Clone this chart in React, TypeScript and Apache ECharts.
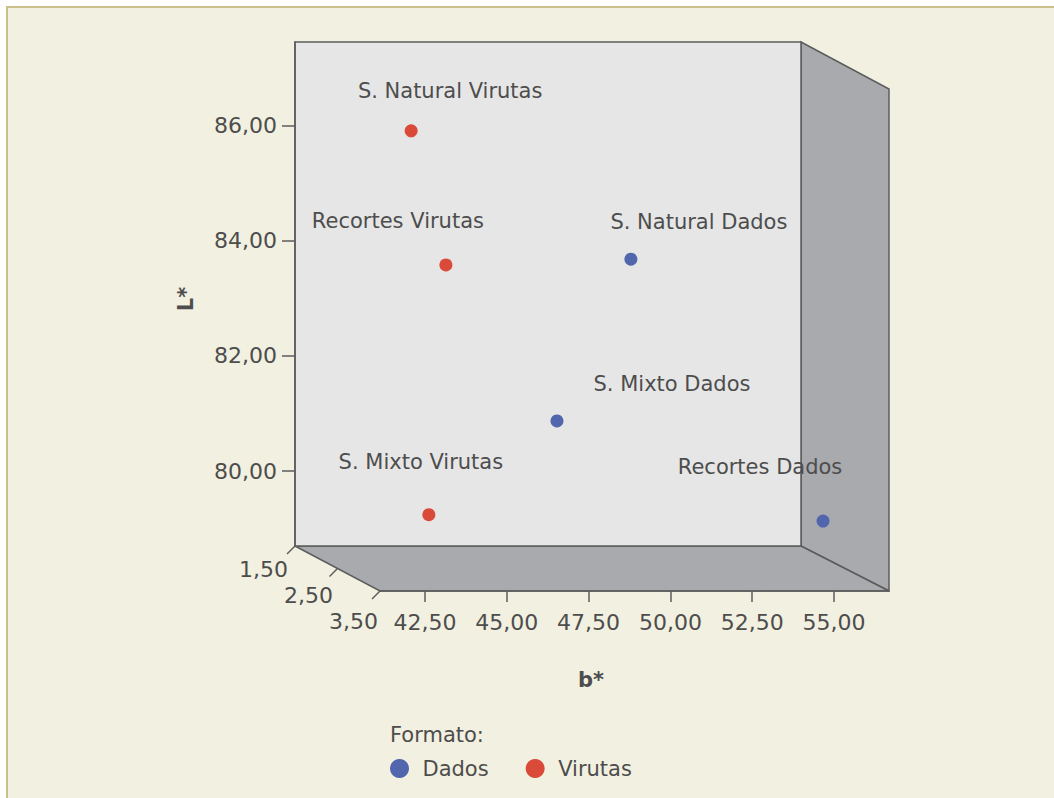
import React, { useEffect, useRef } from "react";
import * as echarts from "echarts";

// ---- data ----
const names = ["S. Natural Virutas", "Recortes Virutas", "S. Mixto Virutas", "S. Natural Dados", "S. Mixto Dados", "Recortes Dados"];
const formato = ["Virutas", "Virutas", "Virutas", "Dados", "Dados", "Dados"];
const bValues = [43.77, 44.31, 44.05, 50.79, 47.46, 55.11];
const lValues = [86.19, 84.02, 79.6, 83.88, 81.39, 79.81];
const aValues = [2.2, 2.6, 2.4, 2.0, 2.8, 3.2];
const bTicks = [42.5, 45, 47.5, 50, 52.5, 55];
const lTicks = [80, 82, 84, 86];
const aTicks = [1.5, 2.5, 3.5];
const bRange = [41.125, 56.68];
const lRange = [78.697, 87.454];
const aRange = [1.5, 3.5];
const groups = ["Dados", "Virutas"];

// ---- layout / style ----
const FRONT = { x: 295, y: 42, w: 506, h: 504 };
const DEPTH = { dx: 86, dy: 46 };
const BACK = { x: 380, y: 89, w: 509, h: 502 };
const labelOffsets: Record<string, number[]> = {
  "S. Natural Virutas": [39, -40],
  "Recortes Virutas": [-48, -44],
  "S. Mixto Virutas": [-8, -53],
  "S. Natural Dados": [68, -37],
  "S. Mixto Dados": [115, -37],
  "Recortes Dados": [-63, -54],
};
const COLORS: Record<string, string> = { Dados: "#5266ae", Virutas: "#da4a38" };
const FONT = "'DejaVu Sans', sans-serif";
const TXT = "#4d4d4d";
const EDGE = "#5c5c5c";
const fmt = (v: number) => v.toFixed(2).replace(".", ",");

export default function App() {
  const ref = useRef<HTMLDivElement>(null);
  useEffect(() => {
    if (!ref.current) return;
    const chart = echarts.init(ref.current, undefined, { renderer: "svg" });

    const bPerPx = (bRange[1] - bRange[0]) / FRONT.w;
    const lPerPx = (lRange[1] - lRange[0]) / FRONT.h;
    const project = (i: number) => {
      const f = (aValues[i] - aRange[0]) / (aRange[1] - aRange[0]);
      return [bValues[i] + f * DEPTH.dx * bPerPx, lValues[i] - f * DEPTH.dy * lPerPx, aValues[i]];
    };

    const series = groups.map((g) => ({
      type: "scatter",
      name: g,
      xAxisIndex: 0,
      yAxisIndex: 0,
      clip: false,
      symbol: "circle",
      symbolSize: 13,
      itemStyle: { color: COLORS[g], opacity: 1 },
      label: {
        show: true,
        position: "inside",
        formatter: (p: any) => p.name,
        color: TXT,
        fontSize: 21,
        fontFamily: FONT,
      },
      data: names
        .map((n, i) => ({ n, i }))
        .filter(({ i }) => formato[i] === g)
        .map(({ n, i }) => ({ name: n, value: project(i), label: { offset: labelOffsets[n] } })),
    }));

    // depth axis (a*) drawn along the floor diagonal
    const depthEls: any[] = [];
    aTicks.forEach((v) => {
      const t = (v - aRange[0]) / (aRange[1] - aRange[0]);
      const px = FRONT.x + t * (BACK.x - FRONT.x);
      const py = FRONT.y + FRONT.h + t * (BACK.y + BACK.h - FRONT.y - FRONT.h);
      depthEls.push({
        type: "line",
        z: 5,
        shape: { x1: px, y1: py, x2: px - 8, y2: py + 8 },
        style: { stroke: EDGE, lineWidth: 1.5 },
      });
      depthEls.push({
        type: "text",
        z: 5,
        x: px - 7 + t * 5,
        y: py + 23 + t * 7,
        style: { text: fmt(v), fill: TXT, font: `22px ${FONT}`, align: "right", verticalAlign: "middle" },
      });
    });

    const fr = FRONT.x + FRONT.w;
    const fb = FRONT.y + FRONT.h;
    const br = BACK.x + BACK.w;
    const bb = BACK.y + BACK.h;

    chart.setOption({
      animation: false,
      backgroundColor: "#ffffff",
      grid: [
        { left: FRONT.x, top: FRONT.y, width: FRONT.w, height: FRONT.h },
        { left: BACK.x, top: BACK.y, width: BACK.w, height: BACK.h },
      ],
      xAxis: [
        { gridIndex: 0, type: "value", min: bRange[0], max: bRange[1], show: false },
        {
          gridIndex: 1,
          type: "value",
          min: bRange[0],
          max: bRange[1],
          position: "bottom",
          axisLine: { show: true, lineStyle: { color: EDGE, width: 1.5 } },
          axisTick: { show: true, length: 11, customValues: bTicks, lineStyle: { color: EDGE, width: 1.5 } },
          axisLabel: { customValues: bTicks, formatter: fmt, margin: 20, fontSize: 22, color: TXT, fontFamily: FONT },
          splitLine: { show: false },
        },
      ],
      yAxis: [
        {
          gridIndex: 0,
          type: "value",
          min: lRange[0],
          max: lRange[1],
          axisLine: { show: true, lineStyle: { color: EDGE, width: 1.5 } },
          axisTick: { show: true, length: 13, customValues: lTicks, lineStyle: { color: EDGE, width: 1.5 } },
          axisLabel: { customValues: lTicks, formatter: fmt, margin: 18, fontSize: 22, color: TXT, fontFamily: FONT },
          splitLine: { show: false },
        },
        { gridIndex: 1, type: "value", min: lRange[0], max: lRange[1], show: false },
      ],
      legend: {
        data: groups,
        left: 385,
        top: 753,
        icon: "circle",
        itemWidth: 30,
        itemHeight: 19,
        itemGap: 37,
        textStyle: { color: TXT, fontSize: 21, fontFamily: FONT, padding: [0, 0, 0, 3] },
      },
      graphic: [
        {
          type: "rect",
          z: -30,
          shape: { x: 7, y: 7, width: 1200, height: 1000 },
          style: { fill: "#f2f0e0", stroke: "#c9c08a", lineWidth: 2 },
        },
        {
          type: "polygon",
          z: -20,
          shape: { points: [[fr, FRONT.y], [br, BACK.y], [br, bb], [fr, fb]] },
          style: { fill: "#a9aaae", stroke: EDGE, lineWidth: 1.5 },
        },
        {
          type: "polygon",
          z: -20,
          shape: { points: [[FRONT.x, fb], [BACK.x, bb], [br, bb], [fr, fb]] },
          style: { fill: "#a9aaae", stroke: EDGE, lineWidth: 1.5 },
        },
        {
          type: "rect",
          z: -15,
          shape: { x: FRONT.x, y: FRONT.y, width: FRONT.w, height: FRONT.h },
          style: { fill: "#e6e6e6", stroke: EDGE, lineWidth: 1.5 },
        },
        ...depthEls,
        {
          type: "text",
          z: 5,
          x: 186,
          y: 299,
          rotation: Math.PI / 2,
          style: { text: "L*", fill: TXT, font: `bold 21px ${FONT}`, align: "center", verticalAlign: "middle" },
        },
        {
          type: "text",
          z: 5,
          x: 591,
          y: 680,
          style: { text: "b*", fill: TXT, font: `bold 21px ${FONT}`, align: "center", verticalAlign: "middle" },
        },
        {
          type: "text",
          z: 5,
          x: 390,
          y: 735,
          style: { text: "Formato:", fill: TXT, font: `21px ${FONT}`, align: "left", verticalAlign: "middle" },
        },
      ],
      series,
    });
    return () => chart.dispose();
  }, []);
  return <div ref={ref} style={{ position: "fixed", left: 0, top: 0, width: 1054, height: 798 }} />;
}
